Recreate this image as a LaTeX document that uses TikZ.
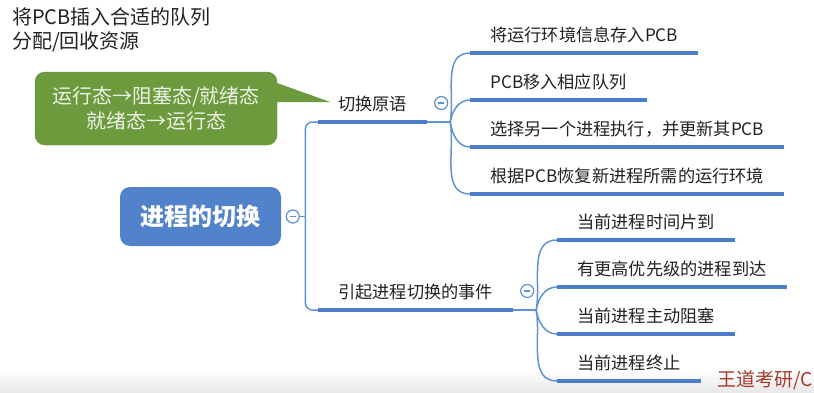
\documentclass[tikz,border=0pt]{standalone}
\usepackage{fontspec}
\setmainfont{Noto Sans CJK SC}
\usetikzlibrary{positioning, calc}
\definecolor{mmroot}{HTML}{5283CA}
\definecolor{mmbar}{HTML}{4C7DCA}
\definecolor{mmline}{HTML}{6092D6}
\definecolor{mmgreen}{HTML}{6C9A3C}
\definecolor{mmtext}{HTML}{222222}
\definecolor{mmred}{HTML}{A33A2A}

\begin{document}
\begin{tikzpicture}[
    x=1pt, y=1pt,
    topic/.style={fill=mmroot, rounded corners=10pt, minimum width=161pt,
                  minimum height=59pt, text=white,
                  font=\fontsize{24}{28}\selectfont\bfseries},
    branch/.style={inner xsep=20pt, inner ysep=0pt, text height=13pt,
                   text depth=11pt, text=mmtext,
                   font=\fontsize{17.2}{20}\selectfont},
    bar/.style={draw=mmbar, line width=3.2pt},
    conn/.style={draw=mmline, line width=1.5pt},
    fold/.style={circle, draw=mmline, fill=white, line width=1.2pt,
                 minimum size=13pt, inner sep=0pt,
                 path picture={\draw[mmline, line width=1.3pt]
                   ([xshift=-3pt]path picture bounding box.center) --
                   ([xshift=3pt]path picture bounding box.center);}},
    bubble/.style={fill=mmgreen, draw=mmgreen!85!black, rounded corners=10pt,
                   minimum width=242pt, minimum height=73pt, align=center,
                   text=white!88!mmgreen,
                   font=\fontsize{20}{25}\selectfont},
  ]
  \useasboundingbox (0,0) rectangle (814,392);
  \shade[top color=white, bottom color=black!9] (0,0) rectangle (814,22);

  % ---- notes and callout ----
  \node[anchor=west, align=left, text=mmtext,
        font=\fontsize{20}{24}\selectfont] (notes) at (8.5,362)
    {将PCB插入合适的队列\\分配/回收资源};
  \node[bubble] (tip) at (156,283.5) {运行态→阻塞态/就绪态\\就绪态→运行态};
  \fill[mmgreen] ($(tip.east)+(-3,26.5)$) -- ($(tip.east)+(53,6.5)$)
    -- ($(tip.east)+(-3,6.5)$) -- cycle;

  % ---- root and first level ----
  \node[topic] (root) at (200.5,175.5) {进程的切换};
  \node[fold, right=4.5pt of root] (f0) {};
  \coordinate (j0) at ($(f0.east)+(5.5,0)$);
  \node[branch, anchor=south west] (b1) at (318,270) {切换原语};
  \node[branch, anchor=south west] (b2) at (318,82) {引起进程切换的事件};
  \draw[conn] (f0.east) -- (j0);
  \draw[conn, rounded corners=7pt] (j0) |- (b1.south west);
  \draw[conn, rounded corners=7pt] (j0) |- (b2.south west);
  \foreach \b in {b1, b2} {
    \draw[bar] (\b.south west) -- (\b.south east);
    \node[fold] (f\b) at ($(\b.south east)+(14,19)$) {};
    \coordinate (j\b) at ($(\b.south east)+(23,0)$);
    \draw[conn] (\b.south east) -- (j\b);
  }

  % ---- leaves ----
  \foreach \n/\t in {1/{将运行环境信息存入PCB}, 2/{PCB移入相应队列},
                     3/{选择另一个进程执行，并更新其PCB},
                     4/{根据PCB恢复新进程所需的运行环境}} {
    \pgfmathsetmacro\ang{\n<3 ? 80 : -80}
    \node[branch, anchor=south west] (a\n) at (470,386-47*\n) {\t};
    \draw[bar] (a\n.south west) -- (a\n.south east);
    \draw[conn] (jb1) to[out=\ang, in=180] (a\n.south west);
  }
  \foreach \n/\t in {1/{当前进程时间片到}, 2/{有更高优先级的进程到达},
                     3/{当前进程主动阻塞}, 4/{当前进程终止}} {
    \pgfmathsetmacro\ang{\n<3 ? 80 : -80}
    \node[branch, anchor=south west] (c\n) at (557,199-47*\n) {\t};
    \draw[bar] (c\n.south west) -- (c\n.south east);
    \draw[conn] (jb2) to[out=\ang, in=180] (c\n.south west);
  }

  \node[anchor=east, inner sep=1pt, text=mmred,
        font=\fontsize{19}{22}\selectfont] (logo) at (814,12) {王道考研/C};
\end{tikzpicture}
\end{document}
